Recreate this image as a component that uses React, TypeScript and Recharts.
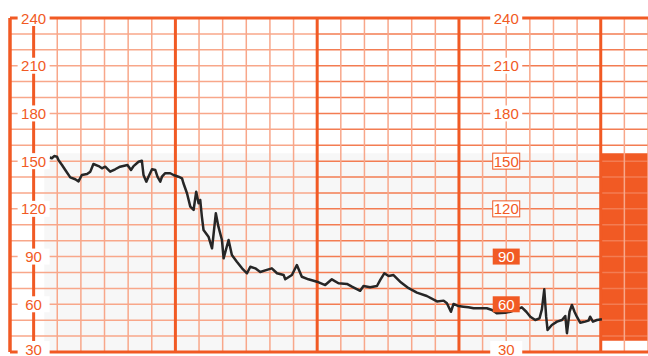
import React from 'react';
import { ComposedChart, Line, Scatter, XAxis, YAxis, ReferenceLine, ReferenceArea } from 'recharts';

// time in grid cells (one cell = one thin vertical line), heart rate in bpm
const times = [
  0.68, 0.77, 0.87, 0.99, 1.05, 1.2, 1.34, 1.55, 1.76, 1.9, 2.04, 2.26, 2.4, 2.53, 2.75, 2.89, 3.03, 3.24, 3.45, 3.66,
  3.97, 4.12, 4.23, 4.44, 4.58, 4.65, 4.77, 4.86, 5.01, 5.15, 5.24, 5.36, 5.43, 5.57, 5.78, 5.92, 6.13, 6.28, 6.34, 6.49,
  6.63, 6.77, 6.88, 6.98, 7.05, 7.12, 7.19, 7.4, 7.55, 7.71, 7.82, 7.97, 8.04, 8.25, 8.39, 8.6, 8.82, 9.03, 9.17, 9.38,
  9.59, 9.87, 10.08, 10.3, 10.58, 10.65, 10.93, 11.14, 11.35, 11.63, 11.99, 12.34, 12.62, 12.9, 13.26, 13.47, 13.82, 13.96, 14.24, 14.53,
  14.67, 14.84, 15.02, 15.23, 15.51, 15.87, 16.22, 16.64, 17.07, 17.35, 17.49, 17.66, 17.77, 17.98, 18.19, 18.4, 18.62, 18.97, 19.18, 19.4,
  19.61, 19.96, 20.17, 20.45, 20.66, 20.85, 21.02, 21.23, 21.41, 21.51, 21.61, 21.69, 21.75, 21.93, 22.15, 22.36, 22.5, 22.57, 22.68, 22.78,
  22.89, 22.99, 23.13, 23.34, 23.48, 23.55, 23.67, 23.84, 24.05,
];
const heartRate = [
  152.3, 151.8, 153.2, 152.8, 150.7, 147.6, 144.4, 139.8, 138.6, 137.3, 141.3, 141.9, 143.4, 148.2, 146.9, 145.5, 146.5, 143.4, 144.9, 146.5,
  147.6, 144.4, 146.9, 149.6, 150.3, 141.3, 137.1, 140.2, 144.9, 144.4, 140.2, 137.1, 140.2, 142.4, 142.4, 141.3, 140.2, 139.2, 136.1, 129.8,
  121.4, 119.3, 130.8, 123.5, 125.6, 115.1, 106.7, 102.5, 95.2, 117.2, 108.8, 100.4, 88.9, 100.4, 91.0, 86.8, 82.6, 79.5, 83.6, 82.6,
  80.3, 81.6, 82.6, 79.5, 78.4, 75.7, 78.4, 84.7, 77.3, 75.7, 74.2, 72.1, 75.7, 73.2, 72.8, 71.1, 68.5, 71.5, 70.7, 71.5,
  75.3, 79.5, 77.8, 78.4, 74.2, 70.1, 67.3, 65.2, 61.8, 62.3, 60.6, 55.3, 60.2, 58.9, 58.5, 58.1, 57.5, 57.5, 57.5, 56.4,
  54.3, 54.7, 55.3, 56.8, 58.1, 55.3, 52.2, 50.1, 51.2, 56.8, 69.4, 52.2, 43.8, 47.0, 49.1, 50.1, 52.6, 41.8, 55.3, 59.6,
  55.3, 52.2, 48.4, 49.1, 49.7, 52.2, 49.1, 50.1, 50.6,
];

const leftTicks = ['240', '210', '180', '150', '120', '90', '60', '30'];
const rightTicks = ['240', '210', '180', '150', '120', '90', '60', '30'];
const rightTickStyle = ['plain', 'plain', 'plain', 'boxed', 'boxed', 'filled', 'filled', 'plain'];

const minorX = [-1, 0, 1, 2, 3, 4, 5, 7, 8, 9, 10, 11, 13, 14, 15, 16, 17, 19, 20, 21, 22, 23, 25, 26];
const majorX = [0, 6, 12, 18, 24];
const gridY = [40, 50, 60, 70, 80, 90, 100, 110, 120, 130, 140, 150, 160, 170, 180, 190, 200, 210, 220, 230];

const ORANGE = '#f15a24';
const LIGHT = '#f8a78a';
const MID = '#f37c52';

const trace = times.map((t, i) => ({ t, bpm: heartRate[i] }));
const leftLabels = leftTicks.map((s) => ({ t: 0, bpm: Number(s), text: s, kind: 'plain' }));
const rightLabels = rightTicks.map((s, i) => ({ t: 20, bpm: Number(s), text: s, kind: rightTickStyle[i] }));

const TickLabel = (props: any) => {
  const { cx, cy, payload } = props;
  const w = payload.kind === 'plain' ? 32 : 27;
  const fill = payload.kind === 'filled' ? ORANGE : '#fff';
  const stroke = payload.kind === 'boxed' ? ORANGE : 'none';
  const color = payload.kind === 'filled' ? '#fff' : ORANGE;
  // the bottom label sits on the lower edge; lift it just enough to stay inside
  const lift = payload.bpm === 30 ? 3 : 0;
  return (
    <g>
      <rect x={cx - w / 2} y={cy - 8 - lift} width={w} height={16} fill={fill} stroke={stroke} strokeWidth={1} />
      <text x={cx} y={cy + 5.5 - lift} textAnchor="middle" fontSize={15} fill={color} fontFamily="'Liberation Sans', Arial, sans-serif">
        {payload.text}
      </text>
    </g>
  );
};

export default function App() {
  return (
    <div style={{ width: 648, height: 356, background: '#fff' }}>
      <style>{'body{margin:0}'}</style>
      <ComposedChart width={648} height={356} data={trace} margin={{ top: 18, right: 0, bottom: 4, left: 10 }}>
        <XAxis dataKey="t" type="number" domain={[-1, 26]} hide />
        <YAxis type="number" domain={[30, 240]} hide />
        <ReferenceArea x1={0.45} x2={24} y1={30} y2={155} fill="#f7f7f7" fillOpacity={1} stroke="none" />
        <ReferenceArea x1={24} x2={26} y1={37} y2={155} fill={ORANGE} fillOpacity={1} stroke="none" />
        {gridY.map((v) => (
          <ReferenceLine key={'hl' + v} segment={[{ x: -1, y: v }, { x: 12, y: v }]} stroke={LIGHT} strokeWidth={1.5} />
        ))}
        {gridY.map((v) => (
          <ReferenceLine key={'hr' + v} segment={[{ x: 12, y: v }, { x: 26, y: v }]} stroke={MID} strokeWidth={1.5} />
        ))}
        {minorX.map((v) => (
          <ReferenceLine key={'vx' + v} x={v} stroke={LIGHT} strokeWidth={1.5} />
        ))}
        {majorX.map((v) => (
          <ReferenceLine key={'mx' + v} x={v} stroke={ORANGE} strokeWidth={3} />
        ))}
        <ReferenceLine x={-1} stroke={ORANGE} strokeWidth={3.5} />
        <ReferenceLine y={240} stroke={ORANGE} strokeWidth={3} />
        <ReferenceLine y={30} stroke={ORANGE} strokeWidth={3} />
        <Line dataKey="bpm" type="linear" stroke="#262626" strokeWidth={2.5} strokeLinejoin="round" dot={false} isAnimationActive={false} />
        <Scatter data={leftLabels} dataKey="bpm" shape={TickLabel} isAnimationActive={false} />
        <Scatter data={rightLabels} dataKey="bpm" shape={TickLabel} isAnimationActive={false} />
      </ComposedChart>
    </div>
  );
}
